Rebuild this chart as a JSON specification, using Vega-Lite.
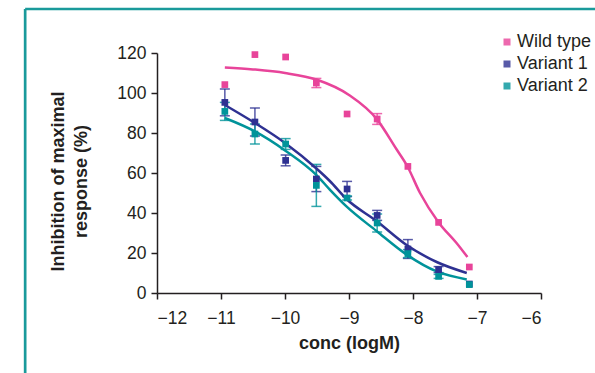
{
  "$schema": "https://vega.github.io/schema/vega-lite/v6.json",
  "width": 384,
  "height": 240,
  "autosize": {"type": "none"},
  "padding": {"left": 157, "top": 53, "right": 54, "bottom": 80},
  "background": "white",
  "config": {
    "view": {"stroke": null},
    "font": "Liberation Sans",
    "axis": {
      "domainColor": "#231f20", "tickColor": "#231f20", "labelColor": "#231f20", "titleColor": "#231f20",
      "domainWidth": 1.5, "tickWidth": 1.5, "tickSize": 6, "grid": false, "labelOverlap": false,
      "labelFont": "Liberation Sans", "labelFontSize": 17.5,
      "titleFont": "Liberation Sans", "titleFontSize": 18, "titleFontWeight": "bold"
    },
    "axisX": {"tickCount": 6, "labelPadding": 10, "titlePadding": 8},
    "axisY": {"tickCount": 6, "labelPadding": 5, "titleLineHeight": 23, "titleX": -90, "titleY": 128},
    "legend": {
      "orient": "none", "legendX": 341, "legendY": -20, "title": null,
      "symbolType": "square", "symbolSize": 49, "symbolStrokeWidth": 0,
      "labelFont": "Liberation Sans", "labelFontSize": 18, "labelColor": "#231f20",
      "labelOffset": 1, "rowPadding": 4, "padding": 0
    }
  },
  "datasets": {
    "points": [
      {"series": "Wild type", "x": -10.94, "y": 104.2, "err": 0},
      {"series": "Wild type", "x": -10.47, "y": 119.2, "err": 0},
      {"series": "Wild type", "x": -9.99, "y": 118, "err": 0},
      {"series": "Wild type", "x": -9.51, "y": 105, "err": 2.3},
      {"series": "Wild type", "x": -9.03, "y": 89.5, "err": 0},
      {"series": "Wild type", "x": -8.56, "y": 87, "err": 2.7},
      {"series": "Wild type", "x": -8.08, "y": 63.3, "err": 0},
      {"series": "Wild type", "x": -7.6, "y": 35.3, "err": 0},
      {"series": "Wild type", "x": -7.12, "y": 13, "err": 0},
      {"series": "Variant 1", "x": -10.94, "y": 95.3, "err": 6.7},
      {"series": "Variant 1", "x": -10.47, "y": 85.5, "err": 7},
      {"series": "Variant 1", "x": -9.99, "y": 66.3, "err": 2.7},
      {"series": "Variant 1", "x": -9.51, "y": 57, "err": 6.3},
      {"series": "Variant 1", "x": -9.03, "y": 52, "err": 3.8},
      {"series": "Variant 1", "x": -8.56, "y": 38.8, "err": 2.5},
      {"series": "Variant 1", "x": -8.08, "y": 22, "err": 4.7},
      {"series": "Variant 1", "x": -7.6, "y": 11.7, "err": 1.5},
      {"series": "Variant 1", "x": -7.12, "y": 4.5, "err": 0},
      {"series": "Variant 2", "x": -10.94, "y": 90.8, "err": 4.5},
      {"series": "Variant 2", "x": -10.47, "y": 79.5, "err": 5},
      {"series": "Variant 2", "x": -9.99, "y": 74.5, "err": 2.7},
      {"series": "Variant 2", "x": -9.51, "y": 53.8, "err": 10.5},
      {"series": "Variant 2", "x": -9.03, "y": 47.5, "err": 1},
      {"series": "Variant 2", "x": -8.56, "y": 35, "err": 4.5},
      {"series": "Variant 2", "x": -8.08, "y": 19.7, "err": 2},
      {"series": "Variant 2", "x": -7.6, "y": 8.3, "err": 1},
      {"series": "Variant 2", "x": -7.12, "y": 4.2, "err": 0}
    ],
    "curves": [
      {"series": "Wild type", "x": -10.94, "y": 112.8},
      {"series": "Wild type", "x": -10.5, "y": 111.8},
      {"series": "Wild type", "x": -10.0, "y": 110},
      {"series": "Wild type", "x": -9.5, "y": 106.6},
      {"series": "Wild type", "x": -9.0, "y": 99},
      {"series": "Wild type", "x": -8.56, "y": 86.7},
      {"series": "Wild type", "x": -8.26, "y": 72},
      {"series": "Wild type", "x": -8.09, "y": 63.5},
      {"series": "Wild type", "x": -7.89, "y": 50},
      {"series": "Wild type", "x": -7.6, "y": 35.3},
      {"series": "Wild type", "x": -7.32, "y": 25},
      {"series": "Wild type", "x": -7.15, "y": 18},
      {"series": "Variant 1", "x": -10.94, "y": 94},
      {"series": "Variant 1", "x": -10.47, "y": 85},
      {"series": "Variant 1", "x": -10.0, "y": 75},
      {"series": "Variant 1", "x": -9.5, "y": 62},
      {"series": "Variant 1", "x": -9.3, "y": 56},
      {"series": "Variant 1", "x": -9.04, "y": 47},
      {"series": "Variant 1", "x": -8.57, "y": 36},
      {"series": "Variant 1", "x": -8.1, "y": 24},
      {"series": "Variant 1", "x": -7.63, "y": 15.5},
      {"series": "Variant 1", "x": -7.16, "y": 10},
      {"series": "Variant 2", "x": -10.94, "y": 87.5},
      {"series": "Variant 2", "x": -10.47, "y": 80.8},
      {"series": "Variant 2", "x": -10.0, "y": 71.3},
      {"series": "Variant 2", "x": -9.5, "y": 58.7},
      {"series": "Variant 2", "x": -9.3, "y": 51.7},
      {"series": "Variant 2", "x": -9.04, "y": 43.3},
      {"series": "Variant 2", "x": -8.57, "y": 31},
      {"series": "Variant 2", "x": -8.1, "y": 19.2},
      {"series": "Variant 2", "x": -7.63, "y": 10.8},
      {"series": "Variant 2", "x": -7.16, "y": 6.8}
    ]
  },
  "layer": [
    {
      "data": {"values": [{}]},
      "mark": {"type": "rule", "color": "#1a9a9b", "strokeWidth": 2.7},
      "encoding": {
        "x": {"datum": -14.06, "type": "quantitative", "scale": {"domain": [-12, -6]}, "title": "conc (logM)"},
        "x2": {"datum": -3},
        "y": {"datum": 142, "type": "quantitative", "scale": {"domain": [0, 120]}, "title": ["Inhibition of maximal", "response (%)"]}
      }
    },
    {
      "data": {"values": [{}]},
      "mark": {"type": "rule", "color": "#1a9a9b", "strokeWidth": 2.7},
      "encoding": {
        "x": {"datum": -14.06, "type": "quantitative", "title": "conc (logM)"},
        "y": {"datum": 142, "type": "quantitative", "title": ["Inhibition of maximal", "response (%)"]},
        "y2": {"datum": -60}
      }
    },
    {
      "data": {"name": "points"},
      "transform": [{"filter": "datum.err > 0"}],
      "mark": {"type": "errorbar", "ticks": {"size": 10, "opacity": 0.8}, "rule": {"opacity": 0.8}, "thickness": 1.5},
      "encoding": {
        "x": {"field": "x", "type": "quantitative", "title": "conc (logM)"},
        "y": {"field": "y", "type": "quantitative", "title": ["Inhibition of maximal", "response (%)"]},
        "yError": {"field": "err"},
        "color": {"field": "series", "type": "nominal"}
      }
    },
    {
      "data": {"name": "curves"},
      "mark": {"type": "line", "strokeWidth": 2.5, "interpolate": "monotone"},
      "encoding": {
        "x": {"field": "x", "type": "quantitative", "title": "conc (logM)"},
        "y": {"field": "y", "type": "quantitative", "title": ["Inhibition of maximal", "response (%)"]},
        "color": {"field": "series", "type": "nominal"}
      }
    },
    {
      "data": {"name": "points"},
      "mark": {"type": "square", "size": 45, "opacity": 1},
      "encoding": {
        "x": {"field": "x", "type": "quantitative", "scale": {"domain": [-12, -6]}, "title": "conc (logM)"},
        "y": {"field": "y", "type": "quantitative", "scale": {"domain": [0, 120]}, "title": ["Inhibition of maximal", "response (%)"]},
        "color": {
          "field": "series", "type": "nominal",
          "scale": {"domain": ["Wild type", "Variant 1", "Variant 2"], "range": ["#e8449a", "#2e3192", "#00939a"]},
          "legend": {"symbolType": "square"}
        }
      }
    }
  ]
}
